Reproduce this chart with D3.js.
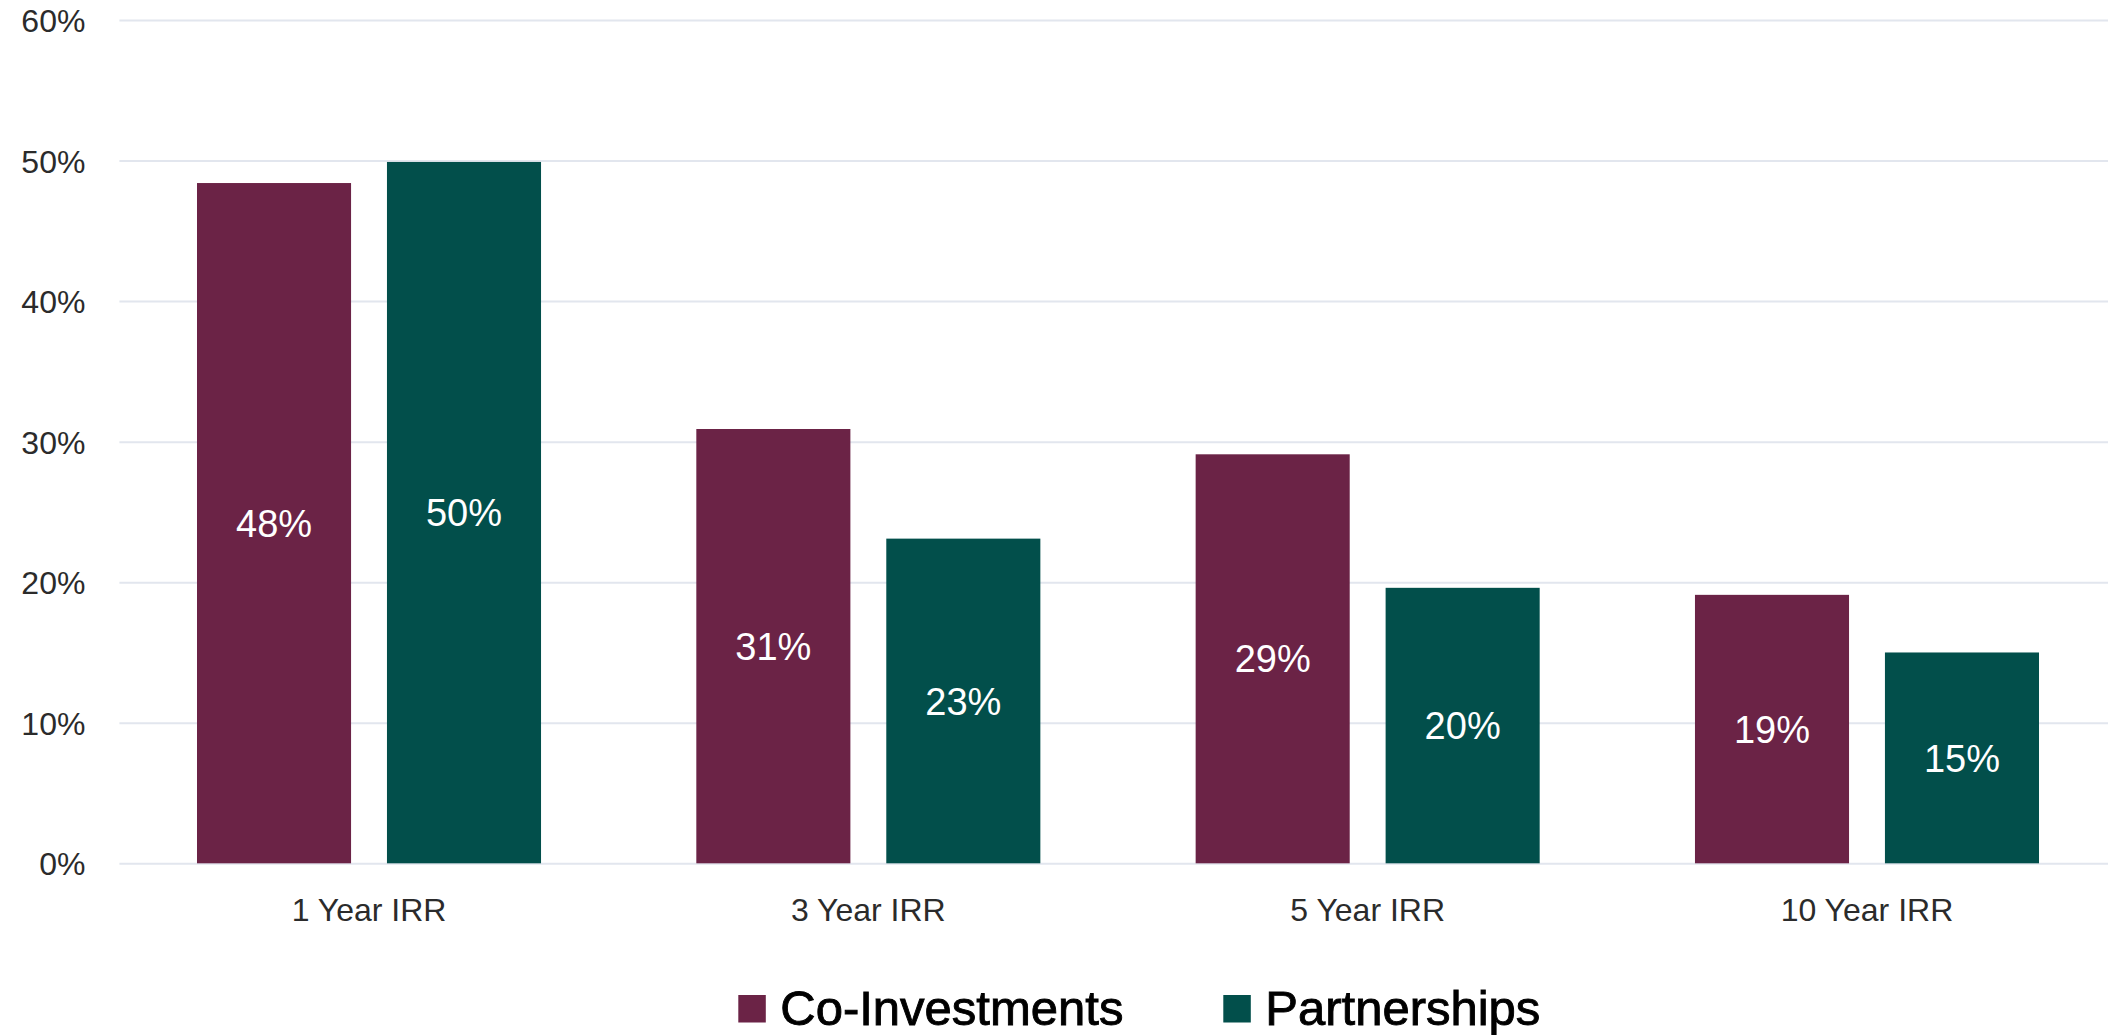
<!DOCTYPE html>
<html>
<head>
<meta charset="utf-8">
<script src="https://cdn.jsdelivr.net/npm/d3@7"></script>
<style>
  html, body { margin: 0; padding: 0; background: #ffffff; }
  svg { display: block; }
</style>
</head>
<body>
<svg id="chart" width="2108" height="1035"></svg>
<script>
const categories = ["1 Year IRR", "3 Year IRR", "5 Year IRR", "10 Year IRR"];
const seriesNames = ["Co-Investments", "Partnerships"];
const coInvestments = [0.484, 0.309, 0.291, 0.191];
const partnerships = [0.499, 0.231, 0.196, 0.150];
const labelsCo = ["48%", "31%", "29%", "19%"];
const labelsPa = ["50%", "23%", "20%", "15%"];
const yTicks = [0, 0.1, 0.2, 0.3, 0.4, 0.5, 0.6];
const colors = ["#6b2346", "#024f4b"];

const seriesValues = [coInvestments, partnerships];
const seriesLabels = [labelsCo, labelsPa];

const svg = d3.select("#chart");
const W = 2108;
const FONT = "'Liberation Sans', Arial, sans-serif";

const x0 = d3.scaleBand().domain(categories).range([119.35, 2116.65]).paddingInner(0.311).paddingOuter(0.1555);
const x1 = d3.scaleBand().domain(seriesNames).range([0, x0.bandwidth()]).paddingInner(0.189).paddingOuter(0);
const y = d3.scaleLinear().domain([0, 0.6]).range([863.3, 20]);

// gridlines + y labels
const yAxis = d3.axisLeft(y).tickValues(yTicks).tickFormat(d3.format(".0%")).tickSize(-(W - 119.4)).tickPadding(34);
const gy = svg.append("g").attr("transform", "translate(119.4,0)").call(yAxis);
gy.select(".domain").remove();
gy.selectAll(".tick line").attr("stroke", "#e2e6ee").attr("stroke-width", 2);
gy.selectAll(".tick text")
  .attr("font-family", FONT).attr("font-size", 32).attr("fill", "#2b2b2b")
  .attr("dy", "0.36em");

// bars
const rows = categories.map((c, i) => ({ cat: c, vals: seriesNames.map((s, j) => ({ s, j, v: seriesValues[j][i], lab: seriesLabels[j][i] })) }));
const groups = svg.append("g").selectAll("g").data(rows).join("g")
  .attr("transform", d => `translate(${x0(d.cat)},0)`);

groups.selectAll("rect").data(d => d.vals).join("rect")
  .attr("x", d => x1(d.s))
  .attr("width", x1.bandwidth())
  .attr("y", d => y(d.v))
  .attr("height", d => y(0) - y(d.v))
  .attr("fill", d => colors[d.j]);

groups.selectAll("text").data(d => d.vals).join("text")
  .attr("x", d => x1(d.s) + x1.bandwidth() / 2)
  .attr("y", d => (y(d.v) + y(0)) / 2)
  .attr("dy", "0.36em")
  .attr("text-anchor", "middle")
  .attr("font-family", FONT).attr("font-size", 38).attr("fill", "#ffffff")
  .text(d => d.lab);

// x axis labels
const xAxis = d3.axisBottom(x0).tickSize(0).tickPadding(0);
const gx = svg.append("g").attr("transform", "translate(0,863.3)").call(xAxis);
gx.select(".domain").remove();
gx.selectAll(".tick text")
  .attr("font-family", FONT).attr("font-size", 32).attr("fill", "#2b2b2b")
  .attr("dy", null).attr("y", 58);

// legend
const legendX = [738.3, 1223.3];
const lg = svg.append("g").selectAll("g").data(seriesNames).join("g")
  .attr("transform", (d, i) => `translate(${legendX[i]},995)`);
lg.append("rect").attr("width", 27.5).attr("height", 27.5).attr("fill", (d, i) => colors[i]);
lg.append("text").attr("x", 42).attr("y", 30)
  .attr("font-family", FONT).attr("font-size", 49).attr("fill", "#000")
  .attr("stroke", "#000").attr("stroke-width", 0.9)
  .text(d => d);
</script>
</body>
</html>
